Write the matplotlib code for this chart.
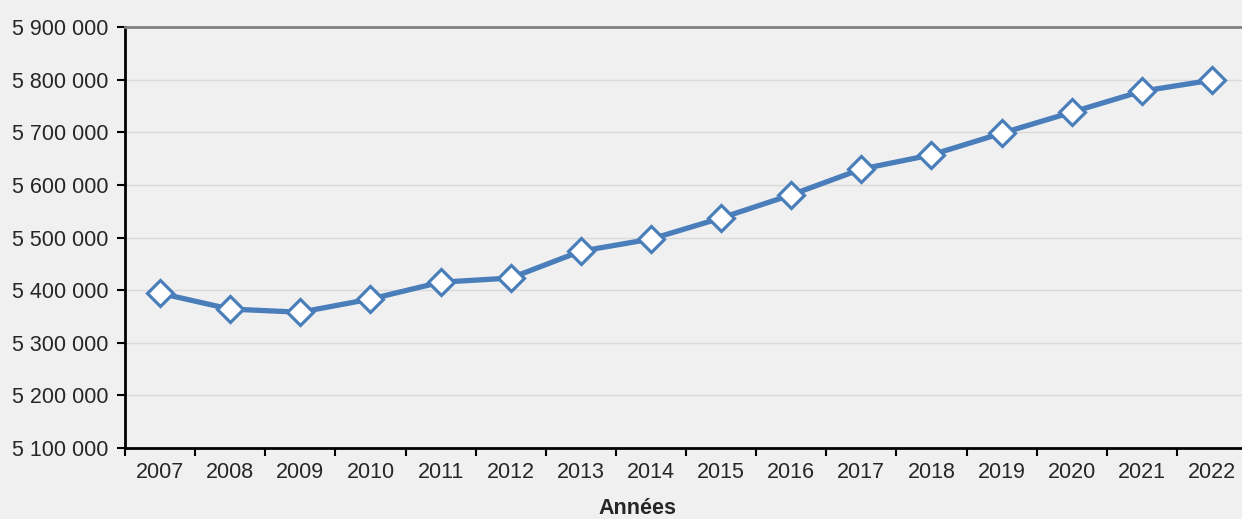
import numpy as np
import matplotlib
matplotlib.use('Agg')
from matplotlib import pyplot as plt
from matplotlib.ticker import FuncFormatter

years = ['2007', '2008', '2009', '2010', '2011', '2012', '2013', '2014',
         '2015', '2016', '2017', '2018', '2019', '2020', '2021', '2022']
population = [5394000, 5364000, 5358000, 5383000, 5415000, 5423000, 5474000, 5497000,
              5537000, 5581000, 5630000, 5657000, 5698000, 5738000, 5778000, 5799000]
yticks = [5100000, 5200000, 5300000, 5400000, 5500000, 5600000, 5700000, 5800000, 5900000]

plt.rcParams['font.family'] = ['Liberation Sans', 'DejaVu Sans']
BG = '#f0f0f0'
BLUE = '#4a7ebb'
TXT = '#262626'

fig = plt.figure(figsize=(12.42, 5.19), dpi=100, facecolor=BG)
# right edge of the plot runs slightly past the image border, as in the reference
ax = fig.add_axes([125 / 1242, 71 / 519, 1122 / 1242, 421 / 519])
ax.set_facecolor(BG)

x = np.arange(len(years))
ax.plot(x, population, color=BLUE, lw=3.8, marker='D', ms=13.5,
        mfc='white', mec=BLUE, mew=2.3, zorder=3, clip_on=False)

ax.set_ylim(yticks[0], yticks[-1])
ax.set_yticks(yticks)
ax.yaxis.set_major_formatter(FuncFormatter(lambda v, p: '{:,.0f}'.format(v).replace(',', ' ')))
ax.grid(axis='y', color='#dadada', lw=1)
ax.set_axisbelow(True)

ax.set_xlim(-0.5, len(years) - 0.5)
ax.set_xticks(x)
ax.set_xticklabels(years)
ax.set_xticks(np.arange(len(years)) - 0.5, minor=True)
ax.tick_params(axis='x', which='major', length=0, pad=10, labelsize=15.5, labelcolor=TXT)
ax.tick_params(axis='x', which='minor', length=6, width=1.5, color='#000000')
ax.tick_params(axis='y', length=6, width=1.5, pad=6, labelsize=15.5, color='#000000', labelcolor=TXT)

for s in ['left', 'bottom']:
    ax.spines[s].set_color('#000000')
    ax.spines[s].set_linewidth(2)
ax.spines['top'].set_color('#808080')
ax.spines['top'].set_linewidth(2)
ax.spines['right'].set_visible(False)

fig.text(637 / 1242, 11 / 519, 'Années', ha='center', va='center',
         fontsize=15.5, fontweight='bold', color=TXT)

fig.savefig('out.png', dpi=100, facecolor=BG)
